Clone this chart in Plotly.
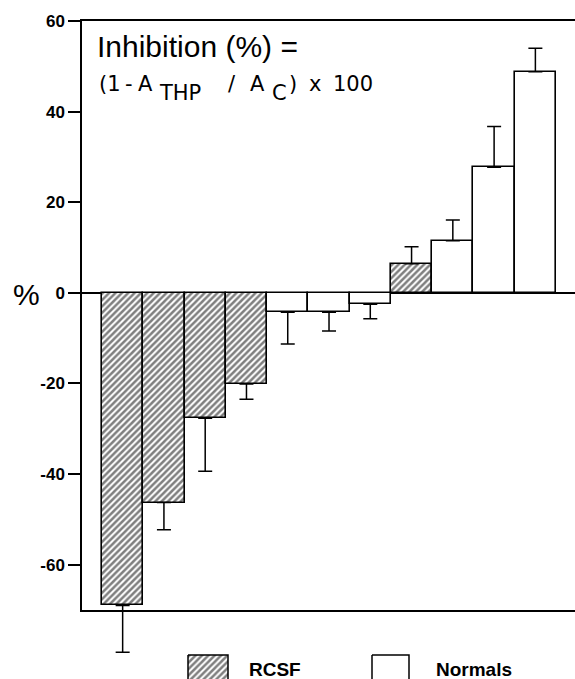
import plotly.graph_objects as go

# ---- data ----
rcsf_x = [1, 2, 3, 4, 8]
rcsf_y = [-69.0, -46.3, -27.7, -20.1, 6.4]
rcsf_err = [10.3, 6.0, 11.7, 3.4, 3.8]

norm_x = [5, 6, 7, 9, 10, 11]
norm_y = [-4.3, -4.3, -2.5, 11.5, 27.7, 48.8]
norm_err = [7.0, 4.1, 3.2, 4.6, 9.0, 5.2]

ytick_vals = [-60, -40, -20, 0, 20, 40, 60]
ytick_text = ["-60", "-40", "-20", "0", "20", "40", "60"]

series_names = ["RCSF", "Normals"]

# ---- layout helpers (pixel -> paper) ----
W, H = 575, 679
ML, MR, MT, MB = 82, 0, 21, 0
PW, PH = W - ML - MR, H - MT - MB
def pxx(x):
    return (x - ML) / PW
def pxy(y):
    return (H - MB - y) / PH

FONT = "Liberation Sans, Arial, Helvetica, sans-serif"
WIDE = "DejaVu Sans, Verdana, sans-serif"

def up(v, e):
    return [ee if vv > 0 else 0 for vv, ee in zip(v, e)]
def down(v, e):
    return [ee if vv < 0 else 0 for vv, ee in zip(v, e)]

HATCH = dict(shape="/", size=4.5, solidity=0.55, fgcolor="black", bgcolor="white")

X_RANGE = [0.015, 11.96]
Y_RANGE = [-70, 60]
Y_BOTTOM_PX = 610
# an invisible twin axis with the same scale, extended over the bottom margin,
# so the long error bar may run past the bottom axis line
ppu = (Y_BOTTOM_PX - MT) / (Y_RANGE[1] - Y_RANGE[0])
Y3_RANGE = [Y_RANGE[1] - (H - MB - MT) / ppu, Y_RANGE[1]]

fig = go.Figure()
fig.add_trace(go.Bar(
    x=rcsf_x, y=rcsf_y, width=1.0, name=series_names[0], showlegend=False,
    marker=dict(color="white", line=dict(color="black", width=1.6), pattern=HATCH),
))
fig.add_trace(go.Bar(
    x=norm_x, y=norm_y, width=1.0, name=series_names[1], showlegend=False,
    marker=dict(color="white", line=dict(color="black", width=1.6)),
))
for xs, ys, es in [(rcsf_x, rcsf_y, rcsf_err), (norm_x, norm_y, norm_err)]:
    fig.add_trace(go.Scatter(
        x=xs, y=ys, xaxis="x3", yaxis="y3", mode="markers", marker=dict(size=1, opacity=0),
        showlegend=False, hoverinfo="skip",
        error_y=dict(type="data", symmetric=False, array=up(ys, es),
                     arrayminus=down(ys, es), color="black", thickness=1.5, width=7),
    ))

# legend swatches on an auxiliary pixel-space axis below the plot
fig.add_trace(go.Scatter(
    x=[188, 228, 228, 188, 188], y=[655, 655, 700, 700, 655], xaxis="x2", yaxis="y2",
    mode="lines", fill="toself", fillcolor="white", line=dict(color="black", width=1.5),
    fillpattern=HATCH, showlegend=False, hoverinfo="skip",
))
fig.add_trace(go.Scatter(
    x=[372, 409, 409, 372, 372], y=[655, 655, 700, 700, 655], xaxis="x2", yaxis="y2",
    mode="lines", fill="toself", fillcolor="white", line=dict(color="black", width=1.5),
    showlegend=False, hoverinfo="skip",
))

dom_bottom = pxy(Y_BOTTOM_PX)

fig.update_layout(
    width=W, height=H,
    margin=dict(l=ML, r=MR, t=MT, b=MB, pad=0, autoexpand=False),
    paper_bgcolor="white", plot_bgcolor="rgba(0,0,0,0)",
    barmode="overlay", bargap=0,
    showlegend=False,
    font=dict(family=FONT, color="black"),
    xaxis=dict(range=X_RANGE, domain=[0, 1], anchor="y",
               showticklabels=False, ticks="", showgrid=False, zeroline=False,
               showline=True, linecolor="black", linewidth=1.5, mirror=True),
    yaxis=dict(range=Y_RANGE, domain=[dom_bottom, 1], anchor="x",
               tickvals=ytick_vals, ticktext=ytick_text,
               ticks="outside", ticklen=12, tickwidth=1.5, tickcolor="black",
               tickfont=dict(family=FONT, size=17, weight="bold", color="black"),
               showgrid=False, zeroline=True, zerolinecolor="black", zerolinewidth=1.5,
               showline=True, linecolor="black", linewidth=1.5),
    xaxis2=dict(range=[ML, W], domain=[0, 1], anchor="y2", visible=False, fixedrange=True),
    yaxis2=dict(range=[H, Y_BOTTOM_PX], domain=[0, dom_bottom], anchor="x2", visible=False, fixedrange=True),
    xaxis3=dict(range=X_RANGE, domain=[0, 1], anchor="y3", visible=False, fixedrange=True),
    yaxis3=dict(range=Y3_RANGE, domain=[0, 1], anchor="x3", visible=False, fixedrange=True),
)

def txt(text, x, y, size, family=FONT, weight="normal", anchor="left"):
    return dict(text=text, x=pxx(x), y=pxy(y), xanchor=anchor, yanchor="middle",
                xref="paper", yref="paper", showarrow=False,
                font=dict(size=size, family=family, weight=weight, color="black"))

F2 = 21
annotations = [
    txt("Inhibition (%) =", 95, 46, 30),
    # formula line: main text and same-size lowered subscripts
    txt("(1", 97, 84, F2, WIDE),
    txt("-", 123, 84, F2, WIDE),
    txt("A", 136, 84, F2, WIDE),
    txt("THP", 157, 93, F2, WIDE),
    txt("/", 226, 84, F2, WIDE),
    txt("A", 248, 84, F2, WIDE),
    txt("C", 270, 93, F2, WIDE),
    txt(")", 287, 84, F2, WIDE),
    txt("x", 307, 84, F2, WIDE),
    txt("100", 331, 84, F2, WIDE),
    txt("%", 26, 294, 30, anchor="center"),
    txt(series_names[0], 247, 669, 19, weight="bold"),
    txt(series_names[1], 434, 669, 19, weight="bold"),
]
fig.update_layout(annotations=annotations)

fig.write_html("out.html", config={"displayModeBar": False},
               post_script="document.body.style.margin='0px';")
